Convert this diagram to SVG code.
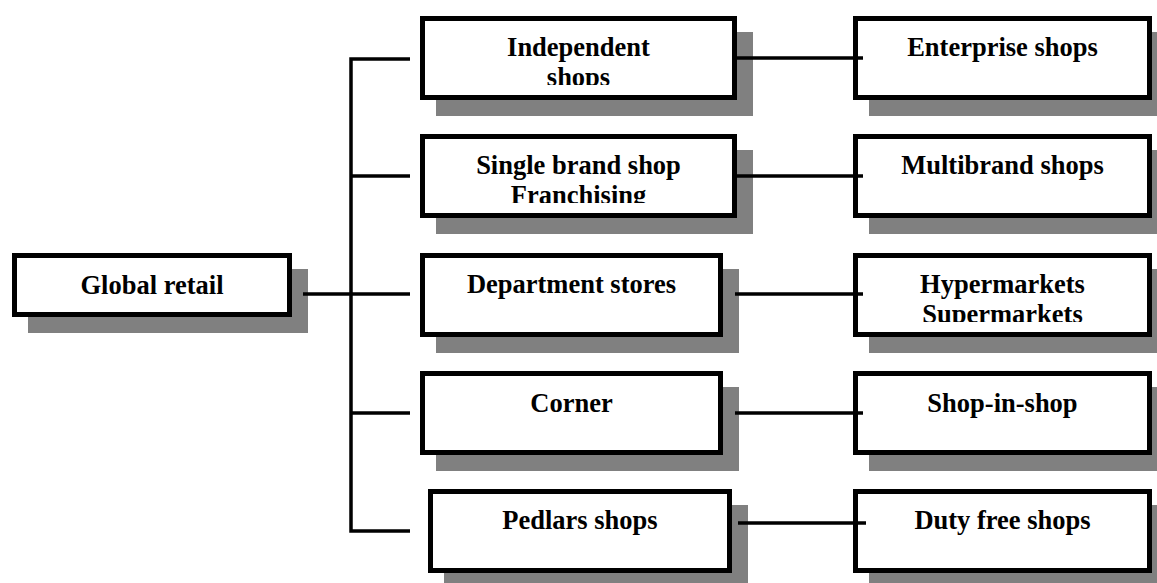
<svg xmlns="http://www.w3.org/2000/svg" width="1157" height="583" viewBox="0 0 1157 583">
<style>
.sh{fill:#808080}
.bx{fill:#fff;stroke:#000;stroke-width:5}
.t{font-family:"Liberation Serif","Times New Roman",serif;font-weight:bold;font-size:26.5px;fill:#000;text-anchor:middle}
.c{fill:none;stroke:#000;stroke-width:3.5}
</style>
<defs>
<clipPath id="c1" clipPathUnits="userSpaceOnUse"><rect x="425" y="21" width="307" height="64"/></clipPath>
<clipPath id="c2" clipPathUnits="userSpaceOnUse"><rect x="425" y="139" width="307" height="64"/></clipPath>
<clipPath id="c3" clipPathUnits="userSpaceOnUse"><rect x="858" y="258" width="289" height="64"/></clipPath>
</defs>
<rect width="1157" height="583" fill="#fff"/>
<g id="global-retail">
<rect class="sh" x="28" y="269" width="280" height="64"/>
<rect class="bx" x="14.5" y="255.5" width="275" height="59"/>
<text class="t" x="152" y="294">Global retail</text>
</g>
<g id="independent-shops">
<rect class="sh" x="436" y="32" width="317" height="84"/>
<rect class="bx" x="422.5" y="18.5" width="312" height="79"/>
<text class="t" clip-path="url(#c1)"><tspan x="578.5" y="56">Independent</tspan><tspan x="578.5" y="86">shops</tspan></text>
</g>
<g id="single-brand">
<rect class="sh" x="436" y="150" width="317" height="84"/>
<rect class="bx" x="422.5" y="136.5" width="312" height="79"/>
<text class="t" clip-path="url(#c2)"><tspan x="578.5" y="174">Single brand shop</tspan><tspan x="578.5" y="204">Franchising</tspan></text>
</g>
<g id="department-stores">
<rect class="sh" x="436" y="269" width="303" height="84"/>
<rect class="bx" x="422.5" y="255.5" width="298" height="79"/>
<text class="t" x="571.5" y="293">Department stores</text>
</g>
<g id="corner">
<rect class="sh" x="436" y="387" width="303" height="84"/>
<rect class="bx" x="422.5" y="373.5" width="298" height="79"/>
<text class="t" x="571.5" y="412">Corner</text>
</g>
<g id="pedlars-shops">
<rect class="sh" x="444" y="505" width="304" height="84"/>
<rect class="bx" x="430.5" y="491.5" width="299" height="79"/>
<text class="t" x="580" y="529">Pedlars shops</text>
</g>
<g id="enterprise-shops">
<rect class="sh" x="869" y="32" width="299" height="84"/>
<rect class="bx" x="855.5" y="18.5" width="294" height="79"/>
<text class="t" x="1002.5" y="56">Enterprise shops</text>
</g>
<g id="multibrand-shops">
<rect class="sh" x="869" y="150" width="299" height="84"/>
<rect class="bx" x="855.5" y="136.5" width="294" height="79"/>
<text class="t" x="1002.5" y="174">Multibrand shops</text>
</g>
<g id="hypermarkets">
<rect class="sh" x="869" y="269" width="299" height="84"/>
<rect class="bx" x="855.5" y="255.5" width="294" height="79"/>
<text class="t" clip-path="url(#c3)"><tspan x="1002.5" y="293">Hypermarkets</tspan><tspan x="1002.5" y="323">Supermarkets</tspan></text>
</g>
<g id="shop-in-shop">
<rect class="sh" x="869" y="387" width="299" height="84"/>
<rect class="bx" x="855.5" y="373.5" width="294" height="79"/>
<text class="t" x="1002.5" y="412">Shop-in-shop</text>
</g>
<g id="duty-free-shops">
<rect class="sh" x="869" y="505" width="299" height="84"/>
<rect class="bx" x="855.5" y="491.5" width="294" height="79"/>
<text class="t" x="1002.5" y="529">Duty free shops</text>
</g>
<g id="connectors">
<path class="c" d="M303,294 H410"/>
<path class="c" d="M410,59 H351 V531 H410"/>
<path class="c" d="M351,176 H410"/>
<path class="c" d="M351,413 H410"/>
<path class="c" d="M737,58 H863"/>
<path class="c" d="M737,176 H863"/>
<path class="c" d="M735,294 H863"/>
<path class="c" d="M735,413 H863"/>
<path class="c" d="M738,523 H866"/>
</g>
</svg>
